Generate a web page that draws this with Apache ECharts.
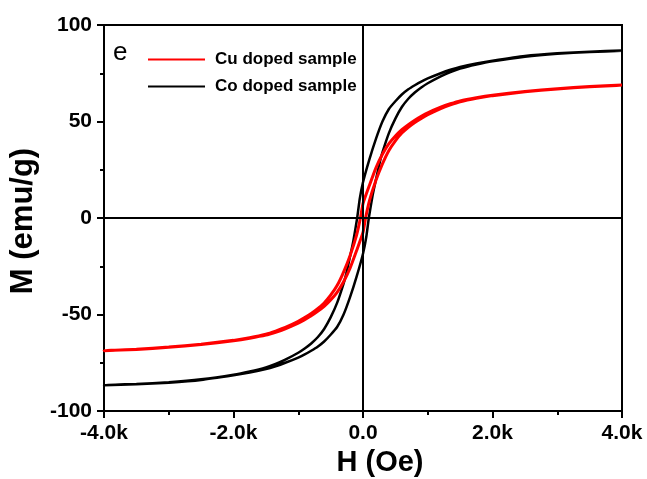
<!DOCTYPE html>
<html>
<head>
<meta charset="utf-8">
<script src="https://cdn.jsdelivr.net/npm/echarts@6/dist/echarts.min.js"></script>
<style>
html,body{margin:0;padding:0;background:#fff;}
#chart{width:647px;height:479px;}
</style>
</head>
<body>
<div id="chart"></div>
<script>
// Co doped sample: descending branch (H from +4000 to -4000)
const coDescH = [4000,3500,3000,2500,2000,1750,1500,1350,1200,1000,900,800,700,600,500,400,300,200,100,0,-50,-90,-150,-200,-260,-300,-400,-500,-600,-700,-800,-900,-1000,-1200,-1350,-1500,-1750,-2000,-2500,-3000,-3500,-4000];
const coDescM = [86.8,86.2,85.3,83.9,81.5,80.1,78.3,76.8,75.0,72.3,70.7,68.8,66.7,64.0,60.5,56.5,50.0,41.0,30.5,18.5,10,0,-12,-20,-29,-34,-44,-51.5,-57.5,-61.8,-65,-67.6,-69.8,-73.4,-75.6,-77.4,-79.5,-81.2,-83.6,-85.1,-86.0,-86.6];
// Co doped sample: ascending branch (H from -4000 to +4000)
const coAscH = [-4000,-3500,-3000,-2500,-2000,-1750,-1500,-1350,-1200,-1000,-900,-800,-700,-600,-500,-400,-300,-200,-100,0,50,90,150,200,260,300,400,500,600,700,800,900,1000,1200,1350,1500,1750,2000,2500,3000,3500,4000];
const coAscM = [-86.8,-86.2,-85.3,-83.9,-81.5,-80.1,-78.3,-76.8,-75.0,-72.3,-70.7,-68.8,-66.7,-64.0,-60.5,-56.5,-50.0,-41.0,-30.5,-18.5,-10,0,12,20,29,34,44,51.5,57.5,61.8,65,67.6,69.8,73.4,75.6,77.4,79.5,81.2,83.6,85.1,86.0,86.6];
// Cu doped sample: descending branch
const cuDescH = [4000,3500,3000,2500,2000,1750,1500,1350,1200,1000,900,800,700,600,500,400,300,200,100,0,-40,-100,-200,-300,-400,-500,-600,-700,-800,-900,-1000,-1200,-1350,-1500,-1750,-2000,-2500,-3000,-3500,-4000];
const cuDescM = [68.9,68.1,67.0,65.6,63.6,62.3,60.7,59.2,57.4,54.5,52.7,50.7,48.4,45.8,42.5,38.5,33,26,17,7.5,0,-9,-19.5,-28,-35,-40,-44,-47,-49.5,-51.6,-53.5,-56.7,-58.6,-60.2,-62.0,-63.4,-65.4,-66.9,-68.0,-68.8];
// Cu doped sample: ascending branch
const cuAscH = [-4000,-3500,-3000,-2500,-2000,-1750,-1500,-1350,-1200,-1000,-900,-800,-700,-600,-500,-400,-300,-200,-100,0,40,100,200,300,400,500,600,700,800,900,1000,1200,1350,1500,1750,2000,2500,3000,3500,4000];
const cuAscM = [-68.9,-68.1,-67.0,-65.6,-63.6,-62.3,-60.7,-59.2,-57.4,-54.5,-52.7,-50.7,-48.4,-45.8,-42.5,-38.5,-33,-26,-17,-7.5,0,9,19.5,28,35,40,44,47,49.5,51.6,53.5,56.7,58.6,60.2,62.0,63.4,65.4,66.9,68.0,68.8];

const seriesNames = ['Cu doped sample','Co doped sample'];
const xTicks = [-4000,-2000,0,2000,4000];
const xTickLabels = ['-4.0k','-2.0k','0.0','2.0k','4.0k'];
const yTicks = [-100,-50,0,50,100];
const yTickLabels = ['-100','-50','0','50','100'];

function pairs(hs, ms){ return hs.map((h,i)=>[h, ms[i]]); }
const coLoop = pairs(coDescH, coDescM).concat(pairs(coAscH, coAscM));
const cuLoop = pairs(cuDescH, cuDescM).concat(pairs(cuAscH, cuAscM));

const FONT = '"Liberation Sans", Arial, sans-serif';
const chart = echarts.init(document.getElementById('chart'), null, {renderer:'canvas'});
chart.setOption({
  animation:false,
  backgroundColor:'#ffffff',
  title:{text:'e', left:108, top:35, textStyle:{fontFamily:FONT, fontSize:26, fontWeight:'normal', color:'#000'}},
  legend:{
    data:seriesNames, orient:'vertical', left:143, top:46,
    itemWidth:57, itemHeight:2, itemGap:10, icon:'rect',
    textStyle:{fontFamily:FONT, fontSize:17, fontWeight:'bold', color:'#000', padding:[0,0,0,5], lineHeight:17}
  },
  grid:{left:104, right:25, top:25, bottom:68, show:true, borderColor:'#000', borderWidth:2,
    containLabel:false, outerBoundsMode:'none'},
  xAxis:{
    type:'value', min:-4000, max:4000, interval:2000,
    name:'H (Oe)', nameLocation:'middle', nameGap:37,
    nameTextStyle:{fontFamily:FONT, fontSize:29, fontWeight:'bold', color:'#000', padding:[0,0,0,34]},
    axisLine:{show:true, onZero:false, lineStyle:{color:'#000', width:2}},
    axisTick:{show:true, inside:false, length:7, lineStyle:{color:'#000', width:2}},
    minorTick:{show:true, splitNumber:2, length:4, lineStyle:{color:'#000', width:2}},
    splitLine:{show:false},
    axisLabel:{margin:12, fontFamily:FONT, fontSize:21, fontWeight:'bold', color:'#000',
      formatter:function(v){ const i = xTicks.indexOf(v); return i>=0 ? xTickLabels[i] : ''; }}
  },
  yAxis:{
    type:'value', min:-100, max:100, interval:50,
    name:'M (emu/g)', nameLocation:'middle', nameGap:59, nameRotate:90,
    nameTextStyle:{fontFamily:FONT, fontSize:31, fontWeight:'bold', color:'#000', padding:[0,6,0,0]},
    axisLine:{show:true, onZero:false, lineStyle:{color:'#000', width:2}},
    axisTick:{show:true, inside:false, length:7, lineStyle:{color:'#000', width:2}},
    minorTick:{show:true, splitNumber:2, length:4, lineStyle:{color:'#000', width:2}},
    splitLine:{show:false},
    axisLabel:{margin:12, fontFamily:FONT, fontSize:21, fontWeight:'bold', color:'#000',
      formatter:function(v){ const i = yTicks.indexOf(v); return i>=0 ? yTickLabels[i] : ''; }}
  },
  series:[
    {
      name:seriesNames[1], type:'line', data:coLoop, showSymbol:false, symbol:'none', smooth:0.15,
      lineStyle:{color:'#000', width:2.5}, itemStyle:{color:'#000'},
      markLine:{silent:true, symbol:'none', label:{show:false},
        lineStyle:{color:'#000', width:2, type:'solid'},
        data:[{xAxis:0},{yAxis:0}]},
      z:2
    },
    {
      name:seriesNames[0], type:'line', data:cuLoop, showSymbol:false, symbol:'none', smooth:0.15,
      lineStyle:{color:'#ff0000', width:3}, itemStyle:{color:'#ff0000'}, z:3
    }
  ]
});
</script>
</body>
</html>
